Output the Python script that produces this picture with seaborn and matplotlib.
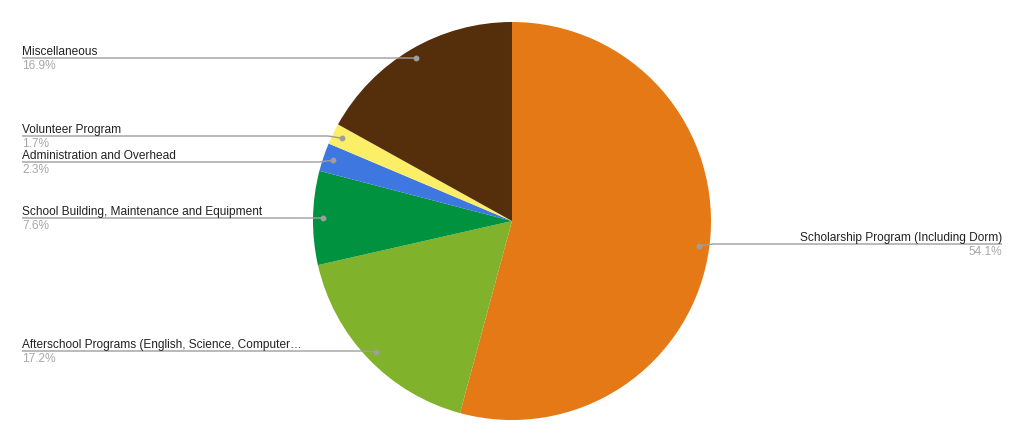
import matplotlib
matplotlib.use("Agg")
import matplotlib.pyplot as plt
import numpy as np
import seaborn as sns

# data, clockwise from 12 o'clock
categories = [
    "Scholarship Program (Including Dorm)",
    "Afterschool Programs (English, Science, Computer\u2026",
    "School Building, Maintenance and Equipment",
    "Administration and Overhead",
    "Volunteer Program",
    "Miscellaneous",
]
shares = [54.1, 17.2, 7.6, 2.3, 1.7, 16.9]
colors = ["#e47916", "#80b22c", "#00923f", "#3e77e0", "#fdee67", "#552e0c"]

# label line heights in pixels from the top (layout only)
label_y = [244, 351, 218, 162, 136, 58]

W, H = 1024, 441
CX, CY, R = 512, 221, 199

sns.set_theme(style="white")
plt.rcParams["font.family"] = ["Liberation Sans", "DejaVu Sans"]

fig = plt.figure(figsize=(W / 100, H / 100), dpi=100)
ax = fig.add_axes([0, 0, 1, 1])

wedges, _ = ax.pie(shares, colors=colors, startangle=90, counterclock=False,
                   center=(CX, H - CY), radius=R, frame=True,
                   wedgeprops=dict(linewidth=0))
ax.set_xlim(0, W)
ax.set_ylim(0, H)
ax.set_aspect("equal")
ax.axis("off")

grey = "#9e9e9e"
for w, name, val, ly in zip(wedges, categories, shares, label_y):
    mid = np.deg2rad((w.theta1 + w.theta2) / 2)
    dx = CX + 0.95 * R * np.cos(mid)
    dy = (H - CY) + 0.95 * R * np.sin(mid)
    y = H - ly
    right = dx > CX
    x_end = 1002 if right else 22
    step = 14 if abs(dy - y) > 0.5 else 8
    xs = [dx, dx + step if right else dx - step, x_end]
    ax.plot(xs, [dy, y, y], color=grey, lw=1, solid_capstyle="butt", zorder=3)
    ax.plot([dx], [dy], "o", color=grey, ms=3.2, zorder=4)
    ha = "right" if right else "left"
    ax.text(x_end, y + 3, name, ha=ha, va="baseline", fontsize=8.6, color="#222222")
    ax.text(x_end, y - 2, f"{val}%", ha=ha, va="top", fontsize=8.6, color="#a8a8a8")

fig.savefig("out.png", dpi=100, facecolor="white")
